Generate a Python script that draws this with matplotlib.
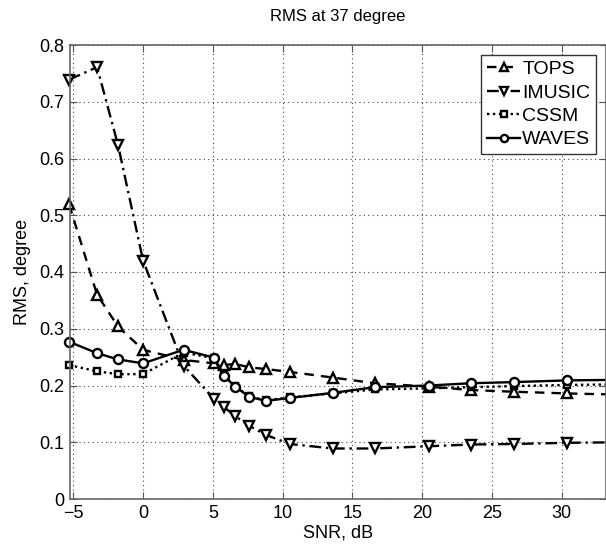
import matplotlib
matplotlib.use("Agg")
import matplotlib.pyplot as plt

plt.rcParams['font.family'] = ['Liberation Sans', 'DejaVu Sans']

snr = [-5.3, -3.3, -1.8, 0.0, 2.9, 5.1, 5.8, 6.6, 7.6, 8.8, 10.5, 13.6, 16.6, 20.5, 23.5, 26.6, 30.4, 34.0]
tops = [0.519, 0.360, 0.304, 0.263, 0.245, 0.239, 0.236, 0.238, 0.232, 0.229, 0.224, 0.214, 0.204, 0.198, 0.192, 0.189, 0.186, 0.184]
imusic = [0.739, 0.761, 0.624, 0.420, 0.235, 0.176, 0.162, 0.146, 0.129, 0.113, 0.097, 0.089, 0.089, 0.093, 0.096, 0.097, 0.099, 0.100]
cssm = [0.236, 0.225, 0.220, 0.220, 0.258, 0.248, 0.218, 0.199, 0.181, 0.174, 0.179, 0.186, 0.193, 0.195, 0.197, 0.199, 0.201, 0.202]
waves = [0.277, 0.257, 0.246, 0.239, 0.263, 0.249, 0.217, 0.198, 0.180, 0.173, 0.178, 0.187, 0.197, 0.200, 0.204, 0.206, 0.209, 0.210]

xticks = [-5, 0, 5, 10, 15, 20, 25, 30]
yticks = [0, 0.1, 0.2, 0.3, 0.4, 0.5, 0.6, 0.7, 0.8]
ytick_labels = ['0', '0.1', '0.2', '0.3', '0.4', '0.5', '0.6', '0.7', '0.8']

fig = plt.figure(figsize=(6.06, 5.45), dpi=100)
ax = fig.add_axes([70/606, 1-499/545, 1-70/606, (499-45)/545])

common = dict(color='black', markerfacecolor='white', markeredgecolor='black',
              markeredgewidth=1.7, markersize=6.5, clip_on=False)
ax.plot(snr, tops, linestyle=(0, (4, 3)), linewidth=1.7, marker='^', label='TOPS', **common)
ax.plot(snr, imusic, linestyle=(0, (5, 2, 1, 2)), linewidth=1.7, marker='v', label='IMUSIC', **common)
ax.plot(snr, cssm, linestyle=(0, (1, 1.5)), linewidth=1.7, marker='s', label='CSSM',
        color='black', markerfacecolor='white', markeredgecolor='black',
        markeredgewidth=1.7, markersize=5, clip_on=False)
ax.plot(snr, waves, linestyle='-', linewidth=1.7, marker='o', label='WAVES', **common)

ax.set_xlim(-5.24, 33.18)
ax.set_ylim(0, 0.8)
ax.set_xticks(xticks)
ax.set_yticks(yticks)
ax.set_yticklabels(ytick_labels)
ax.tick_params(direction='in', top=True, right=True, labelsize=13, length=5,
               color='#555555', pad=4)
ax.grid(True, linestyle=(0, (1, 3)), color='#444444', linewidth=0.8)
for s in ax.spines.values():
    s.set_color('#666666')
    s.set_linewidth(1.2)

ax.set_title('RMS at 37 degree', fontsize=12, pad=17)
ax.set_xlabel('SNR, dB', fontsize=13, labelpad=2)
ax.set_ylabel('RMS, degree', fontsize=13, labelpad=6)

leg = ax.legend(loc='upper right', fontsize=14, frameon=True, fancybox=False,
                edgecolor='#333333', framealpha=1, handlelength=1.7,
                handletextpad=0.1, labelspacing=0.3, borderpad=0.3,
                borderaxespad=0.5, markerscale=0.8)
leg.get_frame().set_linewidth(1.0)

fig.savefig('out.png', dpi=100)
